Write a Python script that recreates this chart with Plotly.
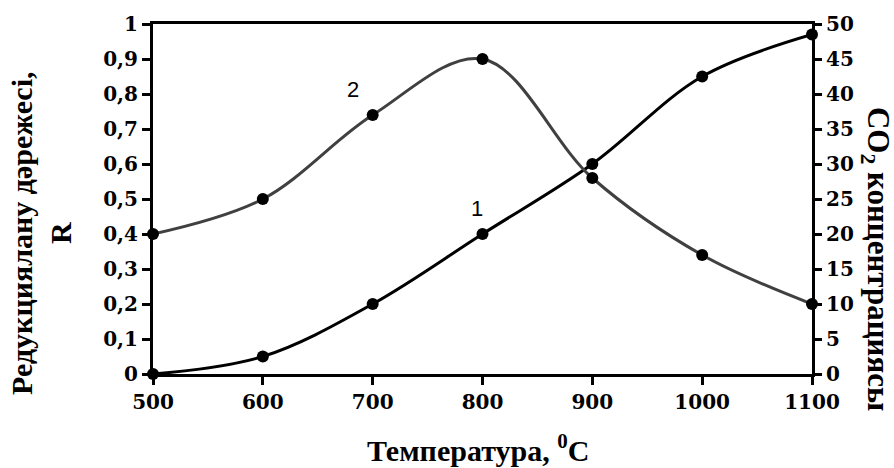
import plotly.graph_objects as go

temperature = [500, 600, 700, 800, 900, 1000, 1100]
reduction_R = [0.0, 0.05, 0.20, 0.40, 0.60, 0.85, 0.97]
co2_conc = [20, 25, 37, 45, 28, 17, 10]

x_ticks = [500, 600, 700, 800, 900, 1000, 1100]
left_ticks = [0, 0.1, 0.2, 0.3, 0.4, 0.5, 0.6, 0.7, 0.8, 0.9, 1.0]
left_labels = ["0", "0,1", "0,2", "0,3", "0,4", "0,5", "0,6", "0,7", "0,8", "0,9", "1"]
right_ticks = [0, 5, 10, 15, 20, 25, 30, 35, 40, 45, 50]

SERIF = "Liberation Serif"
TICK_SERIF = "DejaVu Serif"
SANS = "Liberation Sans"

fig = go.Figure()
fig.add_trace(go.Scatter(
    x=temperature, y=reduction_R, mode="lines+markers",
    line=dict(color="black", width=3, shape="spline"),
    marker=dict(color="black", size=12),
    cliponaxis=False, showlegend=False, yaxis="y"))
fig.add_trace(go.Scatter(
    x=temperature, y=co2_conc, mode="lines+markers",
    line=dict(color="#404040", width=3, shape="spline"),
    marker=dict(color="black", size=12),
    cliponaxis=False, showlegend=False, yaxis="y2"))

fig.update_layout(
    template="none",
    width=894, height=468,
    margin=dict(l=153, r=82, t=24, b=94),
    font=dict(family=SERIF, color="black", size=24),
    plot_bgcolor="white", paper_bgcolor="white",
    xaxis=dict(range=[500, 1100], tickmode="array", tickvals=x_ticks,
               ticktext=[str(v) for v in x_ticks],
               showgrid=False, zeroline=False, showline=True, linecolor="black", linewidth=3,
               mirror=True, ticks="outside", ticklen=8, tickwidth=3, tickcolor="black"),
    yaxis=dict(range=[0, 1], tickmode="array", tickvals=left_ticks, ticktext=left_labels,
               showgrid=False, zeroline=False, showline=True, linecolor="black", linewidth=3,
               ticks="outside", ticklen=8, tickwidth=3, tickcolor="black"),
    yaxis2=dict(range=[0, 50], tickmode="array", tickvals=right_ticks,
                ticktext=[str(v) for v in right_ticks],
                overlaying="y", side="right",
                showgrid=False, zeroline=False, showline=True, linecolor="black", linewidth=3,
                ticks="outside", ticklen=7, tickwidth=3, tickcolor="black"),
    annotations=[
        dict(text="<b>Температура, <sup>0</sup>C</b>", xref="paper", yref="paper", x=0.493, y=-0.21,
             showarrow=False, xanchor="center", yanchor="middle",
             font=dict(family=SERIF, size=30, color="black")),
        dict(text="<b>Редукциялану дәрежесі,<br>R</b>", xref="paper", yref="paper", x=-0.17, y=0.403,
             showarrow=False, xanchor="center", yanchor="middle", textangle=-90,
             font=dict(family=SERIF, size=30, color="black")),
        dict(text="<b>CO<sub>2</sub> концентрациясы</b>", xref="paper", yref="paper", x=1.097, y=0.329,
             showarrow=False, xanchor="center", yanchor="middle", textangle=90,
             font=dict(family=SERIF, size=31, color="black")),
        dict(text="1", x=795, y=0.474, xref="x", yref="y", showarrow=False,
             font=dict(family=SANS, size=22, color="black")),
        dict(text="2", x=682, y=0.814, xref="x", yref="y", showarrow=False,
             font=dict(family=SANS, size=22, color="black")),
    ],
)
fig.update_xaxes(tickfont=dict(family=TICK_SERIF, size=20, color="black", weight="bold"))
fig.update_yaxes(tickfont=dict(family=TICK_SERIF, size=20, color="black", weight="bold"))

fig.write_html("out.html")
